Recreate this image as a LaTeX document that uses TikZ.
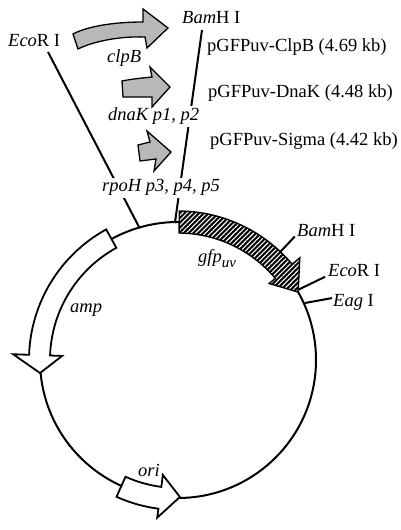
\documentclass[tikz,border=0pt]{standalone}
\usepackage{fontspec}
\setmainfont{Liberation Serif}
\usetikzlibrary{patterns.meta}
\begin{document}
\begin{tikzpicture}[x=1pt,y=1pt,
  lbl/.style={anchor=base west, inner xsep=0pt, inner ysep=2pt, font=\fontsize{18.5}{22}\selectfont},
  cut/.style={lbl, fill=white},
  ln/.style={line width=2pt},
  prom/.style={draw, line width=1.3pt, fill=black!28, line join=miter},
  gene/.style={draw, line width=1.8pt, fill=white, line join=miter},
  hatch/.style={pattern={Lines[angle=45,distance=3.4pt,line width=1.1pt]}, pattern color=white}]
\useasboundingbox (0,0) rectangle (400,530);
\coordinate (c) at (178,170);
% plasmid circle
\draw[ln] (c) circle[radius=138];
\begin{scope}[shift={(c)}]
  \coordinate (ecoIn) at (106.2:137);
  \coordinate (bamIn) at (91.3:137);
  \coordinate (bamR1) at (46.6:148);
  \coordinate (bamR2) at (46.6:170);
  \coordinate (ecoR1) at (30.3:139);
  \coordinate (ecoR2) at (29.5:169);
  \coordinate (eagR1) at (24.2:139);
  \coordinate (eagR2) at (21.9:166);
\end{scope}
\coordinate (ecoTop) at (48,478);
\coordinate (bamTop) at (202,500);
% long site lines
\draw[ln] (ecoTop) -- (ecoIn);
\draw[ln] (bamTop) -- (bamIn);
% labels
\node[lbl] (ecoL) at (8,483) {\textit{Eco}R I};
\node[lbl] (bamL) at (182,506) {\textit{Bam}H I};
\node[lbl] (clpL) at (107,467) {\textit{clpB}};
\node[cut] (dnaL) at (108,409) {\textit{dnaK p1, p2}};
\node[cut] (rpoL) at (102,338) {\textit{rpoH p3, p4, p5}};
\node[lbl] (pc) at (207,478) {pGFPuv-ClpB (4.69 kb)};
\node[lbl] (pd) at (208,432) {pGFPuv-DnaK (4.48 kb)};
\node[lbl] (ps) at (210,384) {pGFPuv-Sigma (4.42 kb)};
\node[lbl] (bamRL) at (297,293) {\textit{Bam}H I};
\node[lbl] (ecoRL) at (328,253) {\textit{Eco}R I};
\node[lbl] (eagRL) at (333,223) {\textit{Eag} I};
\node[lbl] (gfpL) at (198,267) {\textit{gfp}\raisebox{-5pt}{\fontsize{15}{17}\selectfont\textit{uv}}};
\node[lbl] (ampL) at (70,217) {\textit{amp}};
\node[lbl] (oriL) at (138,53) {\textit{ori}};
% promoter arrows
\draw[prom] (73,496) .. controls (88,504) and (115,508) .. (143,508) -- (143,521) -- (168,502) -- (147,482) -- (145,493) .. controls (118,494) and (92,488) .. (78,481) -- cycle;
\draw[prom] (122,449) .. controls (132,451) and (142,452) .. (152,453) -- (150,463) -- (170,443) -- (152,423) -- (152,433) -- (123,433) -- cycle;
\draw[prom] (138,385) -- (150,388) -- (147,399) -- (171,378) -- (154,359) -- (156,371) -- (140,369) -- cycle;
% gene arrows
\begin{scope}[shift={(c)}]
  \draw[gene] (118.8:149) arc[start angle=118.8,end angle=178,radius=149] -- (178:165) -- (185.4:138.6) -- (178:116) -- (178:128) arc[start angle=178,end angle=118.8,radius=128] -- cycle;
  \draw[gene] (245.8:150) arc[start angle=245.8,end angle=262.5,radius=150] -- (262.5:159) -- (270.8:137) -- (262.5:116) -- (262.5:128) arc[start angle=262.5,end angle=245.8,radius=128] -- cycle;
  \fill[black] (89.5:149) arc[start angle=89.5,end angle=40,radius=149] -- (40:159) -- (29.5:138) -- (40:119) -- (40:127) arc[start angle=40,end angle=89.5,radius=127] -- cycle;
  \fill[hatch] (89.5:149) arc[start angle=89.5,end angle=40,radius=149] -- (40:159) -- (29.5:138) -- (40:119) -- (40:127) arc[start angle=40,end angle=89.5,radius=127] -- cycle;
  \draw[line width=1.4pt, line join=miter] (89.5:149) arc[start angle=89.5,end angle=40,radius=149] -- (40:159) -- (29.5:138) -- (40:119) -- (40:127) arc[start angle=40,end angle=89.5,radius=127] -- cycle;
\end{scope}
% short site ticks
\draw[ln] (bamR1) -- (bamR2);
\draw[ln] (ecoR1) -- (ecoR2);
\draw[ln] (eagR1) -- (eagR2);
\end{tikzpicture}
\end{document}
